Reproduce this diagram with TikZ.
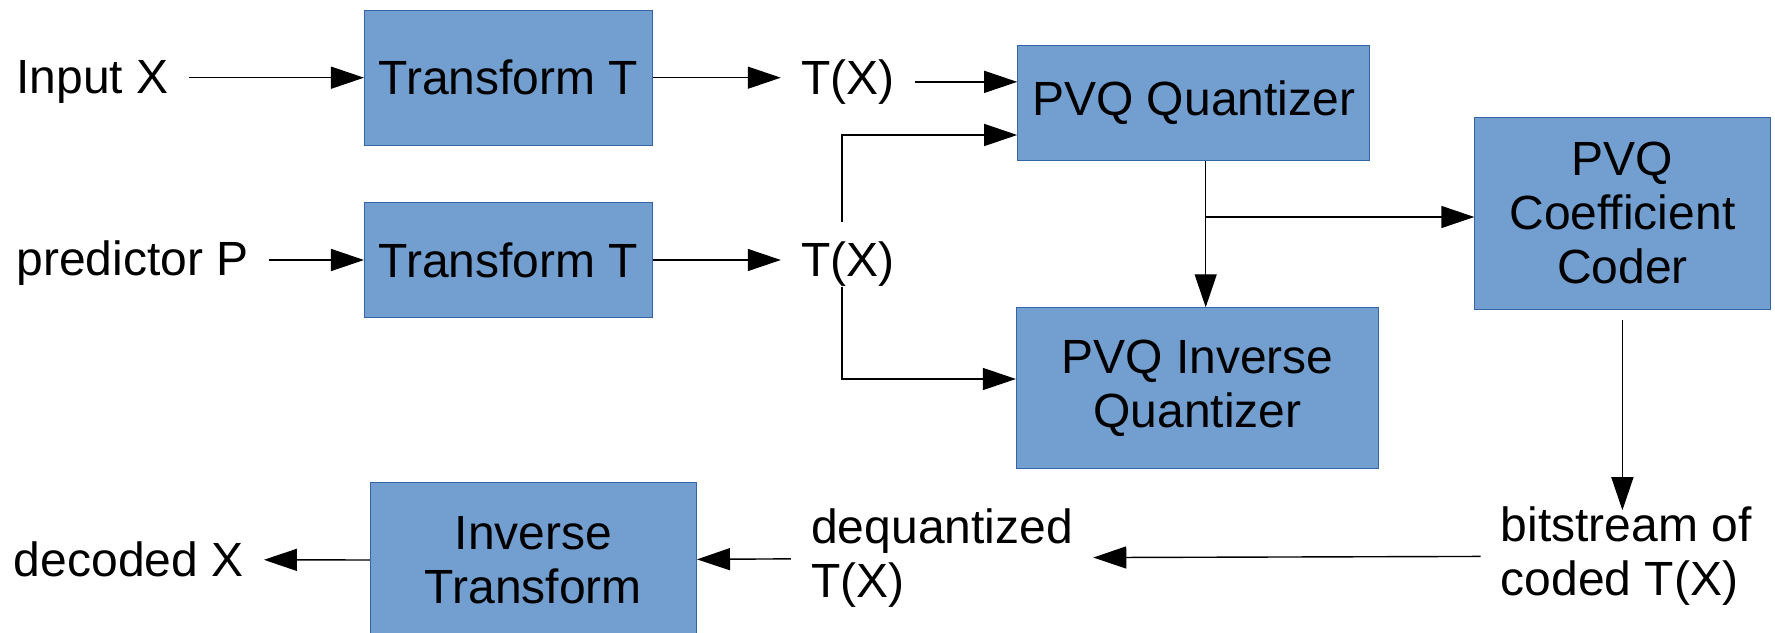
\documentclass[tikz,border=0pt]{standalone}
\usepackage{fontspec}
\setmainfont{Liberation Sans}
\usetikzlibrary{arrows.meta}
\definecolor{boxfill}{HTML}{729FCF}
\definecolor{boxline}{HTML}{3465A4}
\tikzstyle{block} = [rectangle, align=center, inner sep=0pt, draw=boxline, line width=0.5bp, fill=boxfill]
\tikzstyle{signal} = [inner xsep=10bp, inner ysep=0pt]
\tikzstyle{arrow} = [line width=0.7bp, -{Triangle[length=16.5bp,width=11bp]}]
\tikzstyle{wire} = [line width=0.7bp]

\begin{document}
\begin{tikzpicture}[x=0.5bp, y=-0.5bp, font=\fontsize{24bp}{27bp}\selectfont]
          \useasboundingbox (0,0) rectangle (1775,633);
          \node (t1)     [block, minimum width=144bp, minimum height=67.4bp]  at (508.5,77.7)   {Transform T}; %
          \node (t2)     [block, minimum width=144bp, minimum height=57.7bp]  at (508.5,260)    {Transform T}; %
          \node (pvq)    [block, minimum width=176bp, minimum height=57.7bp]  at (1193.7,103)   {PVQ Quantizer}; %
          \node (pvqinv) [block, minimum width=181bp, minimum height=80.2bp]  at (1197.4,388)   {PVQ Inverse\\Quantizer}; %
          \node (coder)  [block, minimum width=147.6bp, minimum height=96bp]  at (1622.4,213.3) {PVQ\\Coefficient\\Coder}; %
          \node (invt)   [block, minimum width=163.1bp, minimum height=78bp]  at (533.4,560.3)  {Inverse\\Transform}; %

          \node (inx)  [signal, anchor=base west] at (-4,94)      {Input X}; %
          \node (pred) [signal, anchor=base west] at (-4,276)     {predictor P}; %
          \node (tx1)  [signal, anchor=base west] at (780.8,94.3) {T(X)}; %
          \node (tx2)  [signal, anchor=base west] at (780.8,276.7) {T(X)}; %
          \node (deq)  [signal, anchor=west, align=left] at (790.9,558) {dequantized\\T(X)}; %
          \node (bits) [signal, anchor=west, align=left] at (1480.5,556) {bitstream of\\coded T(X)}; %
          \node (dec)  [signal, anchor=base west] at (-6.4,576.7) {decoded X}; %
          \coordinate (br) at (1205.5,217); %

          %% Connections
          \draw [arrow] (inx.east |- t1) -- (t1); %
          \draw [arrow] (t1.east) -- (t1.east -| tx1.west); %
          \draw [arrow] (tx1.east) -- (tx1.east -| pvq.west); %
          \draw [arrow] (pred.east |- t2) -- (t2); %
          \draw [arrow] (t2.east) -- (t2.east -| tx2.west); %
          \draw [arrow, shorten <=10bp] ([xshift=-3bp]tx2.north) |- ([yshift=-16bp]pvq.west); %
          \draw [arrow] ([xshift=-3bp]tx2.south) |- ([yshift=4.5bp]pvqinv.west); %
          \draw [arrow] ([xshift=6bp]pvq.south) -- ([xshift=6bp]pvq.south |- pvqinv.north); %
          \draw [arrow] (br) -- (br -| coder.west); %
          \draw [arrow, shorten <=5bp, shorten >=-2bp] (coder.south) -- (coder.south |- bits.north); %
          \draw [arrow] (bits) -- (deq); %
          \draw [arrow] (deq) -- (invt); %
          \draw [arrow] (invt) -- (dec); %
        \end{tikzpicture}
\end{document}
